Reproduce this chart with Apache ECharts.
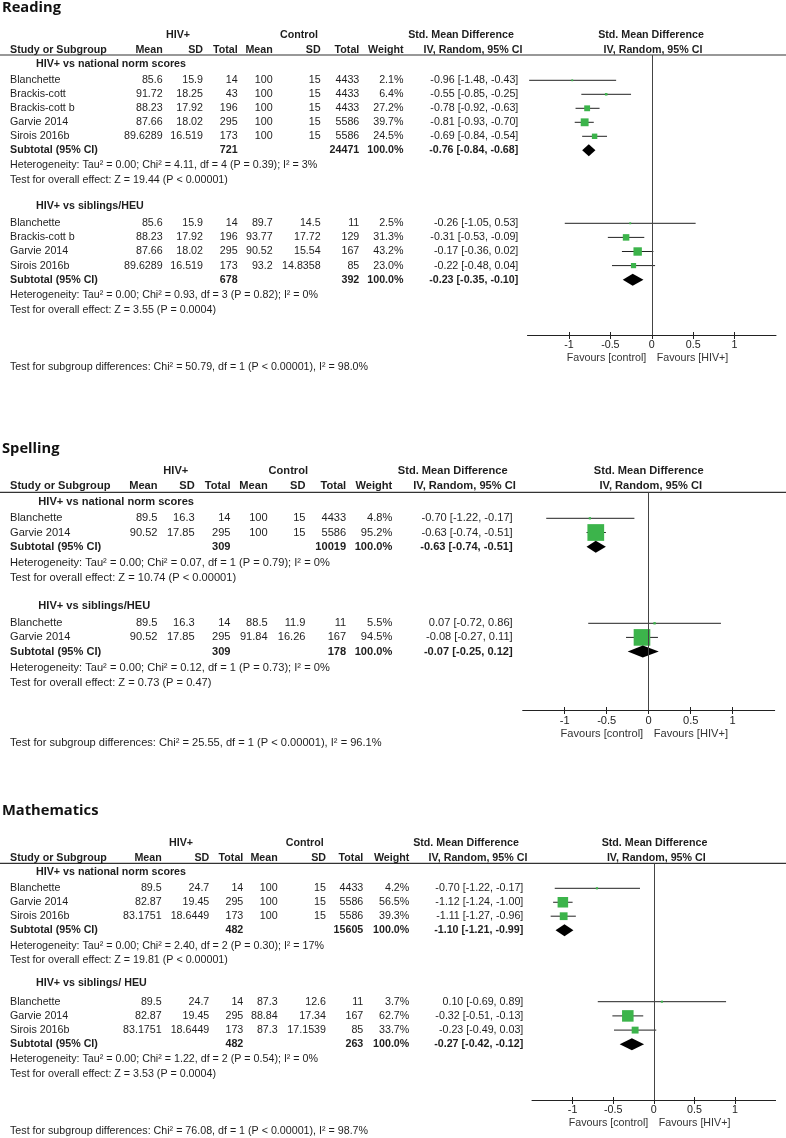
<!DOCTYPE html>
<html><head><meta charset="utf-8">
<script src="https://cdn.jsdelivr.net/npm/echarts@6/dist/echarts.min.js"></script>
<style>html,body{margin:0;padding:0;background:#fff}#c{width:786px;height:1138px}</style>
</head><body><div id="c"></div>
<script>
// ---------------- DATA ----------------
const PANEL_TITLES = ['Reading', 'Spelling', 'Mathematics'];
const GROUP_LABELS = ['HIV+ vs national norm scores', 'HIV+ vs siblings/HEU'];
const MATH_GROUP_LABELS = ['HIV+ vs national norm scores', 'HIV+ vs siblings/ HEU'];
const X_TICKS = [-1, -0.5, 0, 0.5, 1];
// row: [study, HIV mean, HIV SD, HIV n, control mean, control SD, control n, weight %, SMD, lower, upper]
const READING_NORM_ROWS = [
  ['Blanchette', 85.6, 15.9, 14, 100, 15, 4433, 2.1, -0.96, -1.48, -0.43],
  ['Brackis-cott', 91.72, 18.25, 43, 100, 15, 4433, 6.4, -0.55, -0.85, -0.25],
  ['Brackis-cott b', 88.23, 17.92, 196, 100, 15, 4433, 27.2, -0.78, -0.92, -0.63],
  ['Garvie 2014', 87.66, 18.02, 295, 100, 15, 5586, 39.7, -0.81, -0.93, -0.70],
  ['Sirois 2016b', 89.6289, 16.519, 173, 100, 15, 5586, 24.5, -0.69, -0.84, -0.54]
];
const READING_NORM_SUB = [721, 24471, 100, -0.76, -0.84, -0.68];
const READING_NORM_HET = [0, 4.11, 4, 0.39, 3];
const READING_NORM_Z = [19.44, '< 0.00001'];
const READING_SIB_ROWS = [
  ['Blanchette', 85.6, 15.9, 14, 89.7, 14.5, 11, 2.5, -0.26, -1.05, 0.53],
  ['Brackis-cott b', 88.23, 17.92, 196, 93.77, 17.72, 129, 31.3, -0.31, -0.53, -0.09],
  ['Garvie 2014', 87.66, 18.02, 295, 90.52, 15.54, 167, 43.2, -0.17, -0.36, 0.02],
  ['Sirois 2016b', 89.6289, 16.519, 173, 93.2, 14.8358, 85, 23.0, -0.22, -0.48, 0.04]
];
const READING_SIB_SUB = [678, 392, 100, -0.23, -0.35, -0.10];
const READING_SIB_HET = [0, 0.93, 3, 0.82, 0];
const READING_SIB_Z = [3.55, '= 0.0004'];
const READING_DIFF = [50.79, 1, '< 0.00001', 98.0];

const SPELLING_NORM_ROWS = [
  ['Blanchette', 89.5, 16.3, 14, 100, 15, 4433, 4.8, -0.70, -1.22, -0.17],
  ['Garvie 2014', 90.52, 17.85, 295, 100, 15, 5586, 95.2, -0.63, -0.74, -0.51]
];
const SPELLING_NORM_SUB = [309, 10019, 100, -0.63, -0.74, -0.51];
const SPELLING_NORM_HET = [0, 0.07, 1, 0.79, 0];
const SPELLING_NORM_Z = [10.74, '< 0.00001'];
const SPELLING_SIB_ROWS = [
  ['Blanchette', 89.5, 16.3, 14, 88.5, 11.9, 11, 5.5, 0.07, -0.72, 0.86],
  ['Garvie 2014', 90.52, 17.85, 295, 91.84, 16.26, 167, 94.5, -0.08, -0.27, 0.11]
];
const SPELLING_SIB_SUB = [309, 178, 100, -0.07, -0.25, 0.12];
const SPELLING_SIB_HET = [0, 0.12, 1, 0.73, 0];
const SPELLING_SIB_Z = [0.73, '= 0.47'];
const SPELLING_DIFF = [25.55, 1, '< 0.00001', 96.1];

const MATH_NORM_ROWS = [
  ['Blanchette', 89.5, 24.7, 14, 100, 15, 4433, 4.2, -0.70, -1.22, -0.17],
  ['Garvie 2014', 82.87, 19.45, 295, 100, 15, 5586, 56.5, -1.12, -1.24, -1.00],
  ['Sirois 2016b', 83.1751, 18.6449, 173, 100, 15, 5586, 39.3, -1.11, -1.27, -0.96]
];
const MATH_NORM_SUB = [482, 15605, 100, -1.10, -1.21, -0.99];
const MATH_NORM_HET = [0, 2.40, 2, 0.30, 17];
const MATH_NORM_Z = [19.81, '< 0.00001'];
const MATH_SIB_ROWS = [
  ['Blanchette', 89.5, 24.7, 14, 87.3, 12.6, 11, 3.7, 0.10, -0.69, 0.89],
  ['Garvie 2014', 82.87, 19.45, 295, 88.84, 17.34, 167, 62.7, -0.32, -0.51, -0.13],
  ['Sirois 2016b', 83.1751, 18.6449, 173, 87.3, 17.1539, 85, 33.7, -0.23, -0.49, 0.03]
];
const MATH_SIB_SUB = [482, 263, 100, -0.27, -0.42, -0.12];
const MATH_SIB_HET = [0, 1.22, 2, 0.54, 0];
const MATH_SIB_Z = [3.53, '= 0.0004'];
const MATH_DIFF = [76.08, 1, '< 0.00001', 98.7];

// ---------------- LAYOUT ----------------
const LAYOUT = [
  { title: 7.5, hiv: 35, col: 50, line: 55, axis: 335, fav: 358, test: 367.3, fs: 10.7,
    gridLeft: 527.5, gridWidth: 248.5,
    groups: [{ head: 64, first: 80.3, pitch: 14, het: 165.3 }, { head: 206, first: 223.3, pitch: 14.1, het: 295.5 }],
    cols: { group: 36, mean: 162.7, sd: 203, n: 237.7, cmean: 272.7, csd: 320.7, cn: 359.3, w: 403.5, smd: 518.3,
            hiv: 178, ctrl: 299, smdH1: 461, smdH2: 473, plotH1: 651, plotH2: 653 } },
  { title: 449, hiv: 471, col: 485.7, line: 492.3, axis: 710, fav: 734, test: 743.3, fs: 11.1,
    gridLeft: 522.7, gridWidth: 252,
    groups: [{ head: 501.7, first: 518.3, pitch: 14.2, het: 563.3 }, { head: 606, first: 623.3, pitch: 14.1, het: 668.3 }],
    cols: { group: 38.3, mean: 157.5, sd: 194.7, n: 230.5, cmean: 267.7, csd: 305.5, cn: 346.2, w: 392.3, smd: 512.7,
            hiv: 175.8, ctrl: 288.3, smdH1: 452.7, smdH2: 464.5, plotH1: 648.7, plotH2: 650.7 } },
  { title: 810.5, hiv: 843.3, col: 857.7, line: 863.3, axis: 1100, fav: 1122.7, test: 1131.5, fs: 10.7,
    gridLeft: 532, gridWidth: 243.6,
    groups: [{ head: 872, first: 888.3, pitch: 13.95, het: 945.7 }, { head: 983.3, first: 1001.7, pitch: 14.2, het: 1059.3 }],
    cols: { group: 36, mean: 161.7, sd: 209.3, n: 243.3, cmean: 277.7, csd: 326, cn: 363.3, w: 409.3, smd: 523.3,
            hiv: 181, ctrl: 304.7, smdH1: 466, smdH2: 478, plotH1: 654.5, plotH2: 656.3 } }
];

const PANELS = [
  { title: PANEL_TITLES[0], labels: GROUP_LABELS, diff: READING_DIFF, groups: [
    { rows: READING_NORM_ROWS, sub: READING_NORM_SUB, het: READING_NORM_HET, z: READING_NORM_Z },
    { rows: READING_SIB_ROWS, sub: READING_SIB_SUB, het: READING_SIB_HET, z: READING_SIB_Z }] },
  { title: PANEL_TITLES[1], labels: GROUP_LABELS, diff: SPELLING_DIFF, groups: [
    { rows: SPELLING_NORM_ROWS, sub: SPELLING_NORM_SUB, het: SPELLING_NORM_HET, z: SPELLING_NORM_Z },
    { rows: SPELLING_SIB_ROWS, sub: SPELLING_SIB_SUB, het: SPELLING_SIB_HET, z: SPELLING_SIB_Z }] },
  { title: PANEL_TITLES[2], labels: MATH_GROUP_LABELS, diff: MATH_DIFF, groups: [
    { rows: MATH_NORM_ROWS, sub: MATH_NORM_SUB, het: MATH_NORM_HET, z: MATH_NORM_Z },
    { rows: MATH_SIB_ROWS, sub: MATH_SIB_SUB, het: MATH_SIB_HET, z: MATH_SIB_Z }] }
];

// ---------------- BUILD ----------------
const FAM = '"Liberation Sans", Arial, Helvetica, sans-serif';
const TXT = '#1e1e1e';
const GREEN = '#3cb44b';
const graphics = [];
function txt(x, y, text, size, bold, align, color) {
  graphics.push({ type: 'text', silent: true, z: 10,
    style: { x: x, y: y, text: String(text), font: (bold ? 'bold ' : '') + size + 'px ' + FAM,
             fill: color || TXT, textAlign: align || 'left', textVerticalAlign: 'middle' } });
}
function fmtSmd(e, lo, hi) { return e.toFixed(2) + ' [' + lo.toFixed(2) + ', ' + hi.toFixed(2) + ']'; }

const grids = [], xAxes = [], yAxes = [], series = [];

PANELS.forEach(function (P, i) {
  const L = LAYOUT[i], C = L.cols, fs = L.fs;
  graphics.push({ type: 'text', silent: true,
    style: { x: 2, y: L.title, text: P.title, font: 'bold 14.7px "Open Sans", "Noto Sans", sans-serif',
             fill: '#111', textAlign: 'left', textVerticalAlign: 'middle' } });
  txt(C.hiv, L.hiv, 'HIV+', fs, true, 'center');
  txt(C.ctrl, L.hiv, 'Control', fs, true, 'center');
  txt(C.smdH1, L.hiv, 'Std. Mean Difference', fs, true, 'center');
  txt(C.plotH1, L.hiv, 'Std. Mean Difference', fs, true, 'center');
  txt(10, L.col, 'Study or Subgroup', fs, true, 'left');
  txt(C.mean, L.col, 'Mean', fs, true, 'right');
  txt(C.sd, L.col, 'SD', fs, true, 'right');
  txt(C.n, L.col, 'Total', fs, true, 'right');
  txt(C.cmean, L.col, 'Mean', fs, true, 'right');
  txt(C.csd, L.col, 'SD', fs, true, 'right');
  txt(C.cn, L.col, 'Total', fs, true, 'right');
  txt(C.w, L.col, 'Weight', fs, true, 'right');
  txt(C.smdH2, L.col, 'IV, Random, 95% CI', fs, true, 'center');
  txt(C.plotH2, L.col, 'IV, Random, 95% CI', fs, true, 'center');
  graphics.push({ type: 'line', silent: true,
    shape: { x1: 0, y1: L.line, x2: 786, y2: L.line }, style: { stroke: '#333', lineWidth: 1.2 } });

  const marks = [];
  P.groups.forEach(function (G, gi) {
    const g = L.groups[gi];
    txt(C.group, g.head, P.labels[gi], fs, true, 'left');
    G.rows.forEach(function (r, k) {
      const y = g.first + k * g.pitch;
      txt(10, y, r[0], fs, false, 'left');
      txt(C.mean, y, r[1], fs, false, 'right');
      txt(C.sd, y, r[2], fs, false, 'right');
      txt(C.n, y, r[3], fs, false, 'right');
      txt(C.cmean, y, r[4], fs, false, 'right');
      txt(C.csd, y, r[5], fs, false, 'right');
      txt(C.cn, y, r[6], fs, false, 'right');
      txt(C.w, y, r[7].toFixed(1) + '%', fs, false, 'right');
      txt(C.smd, y, fmtSmd(r[8], r[9], r[10]), fs, false, 'right');
      marks.push([r[8], r[9], r[10], y - L.line, r[7], 0]);
    });
    const ys = g.first + G.rows.length * g.pitch, S = G.sub;
    txt(10, ys, 'Subtotal (95% CI)', fs, true, 'left');
    txt(C.n, ys, S[0], fs, true, 'right');
    txt(C.cn, ys, S[1], fs, true, 'right');
    txt(C.w, ys, S[2].toFixed(1) + '%', fs, true, 'right');
    txt(C.smd, ys, fmtSmd(S[3], S[4], S[5]), fs, true, 'right');
    marks.push([S[3], S[4], S[5], ys - L.line, S[2], 1]);
    const H = G.het;
    txt(10, g.het, 'Heterogeneity: Tau\u00b2 = ' + H[0].toFixed(2) + '; Chi\u00b2 = ' + H[1].toFixed(2) +
        ', df = ' + H[2] + ' (P = ' + H[3].toFixed(2) + '); I\u00b2 = ' + H[4] + '%', fs, false, 'left');
    txt(10, g.het + 14.3, 'Test for overall effect: Z = ' + G.z[0].toFixed(2) + ' (P ' + G.z[1] + ')', fs, false, 'left');
  });
  const D = P.diff;
  txt(10, L.test, 'Test for subgroup differences: Chi\u00b2 = ' + D[0].toFixed(2) + ', df = ' + D[1] +
      ' (P ' + D[2] + '), I\u00b2 = ' + D[3].toFixed(1) + '%', fs, false, 'left');
  const zeroX = L.gridLeft + L.gridWidth / 2;
  txt(zeroX - 5.5, L.fav, 'Favours [control]', fs, false, 'right', '#333');
  txt(zeroX + 5, L.fav, 'Favours [HIV+]', fs, false, 'left', '#333');

  grids.push({ left: L.gridLeft, width: L.gridWidth, top: L.line, height: L.axis - L.line });
  xAxes.push({ gridIndex: i, type: 'value', min: -1.5, max: 1.5, position: 'bottom',
    axisLine: { show: true, onZero: false, lineStyle: { color: '#222', width: 1 } },
    axisTick: { show: true, customValues: X_TICKS, length: 4, lineStyle: { color: '#222' } },
    axisLabel: { show: true, customValues: X_TICKS, margin: 5, fontSize: fs, color: '#222', fontFamily: FAM,
      formatter: function (v) { return Math.abs(v) > 1.2 ? '' : String(v); } },
    splitLine: { show: false } });
  xAxes.push({ gridIndex: i, type: 'value', min: -1.5, max: 1.5, position: 'bottom',
    axisLine: { show: false, onZero: false },
    axisTick: { show: true, inside: true, customValues: X_TICKS, length: 3, lineStyle: { color: '#222' } },
    axisLabel: { show: false }, splitLine: { show: false } });
  yAxes.push({ gridIndex: i, type: 'value', min: 0, max: L.axis - L.line, inverse: true, show: false });

  series.push({
    type: 'custom', xAxisIndex: 2 * i, yAxisIndex: i, clip: false, silent: true,
    encode: { x: [0, 1, 2], y: 3 },
    data: marks,
    renderItem: function (params, api) {
      const e = api.value(0), lo = api.value(1), hi = api.value(2), y = api.value(3), w = api.value(4), kind = api.value(5);
      const pc = api.coord([e, y]), pl = api.coord([lo, y]), ph = api.coord([hi, y]);
      if (kind === 1) {
        return { type: 'polygon', shape: { points: [[pl[0], pc[1]], [pc[0], pc[1] - 6], [ph[0], pc[1]], [pc[0], pc[1] + 6]] },
                 style: { fill: '#000' } };
      }
      const s = 1.5 + 0.16 * w;
      return { type: 'group', children: [
        { type: 'line', shape: { x1: pl[0], y1: pc[1], x2: ph[0], y2: pc[1] }, style: { stroke: '#222', lineWidth: 1 } },
        { type: 'rect', shape: { x: pc[0] - s / 2, y: pc[1] - s / 2, width: s, height: s }, style: { fill: GREEN } }
      ] };
    },
    markLine: { silent: true, symbol: 'none', label: { show: false }, animation: false,
      lineStyle: { color: '#444', width: 1, type: 'solid' }, data: [{ xAxis: 0 }] }
  });
});

const chart = echarts.init(document.getElementById('c'), null, { renderer: 'canvas', width: 786, height: 1138 });
chart.setOption({
  animation: false,
  backgroundColor: '#fff',
  grid: grids, xAxis: xAxes, yAxis: yAxes, series: series,
  graphic: { elements: graphics }
});
</script>
</body></html>
